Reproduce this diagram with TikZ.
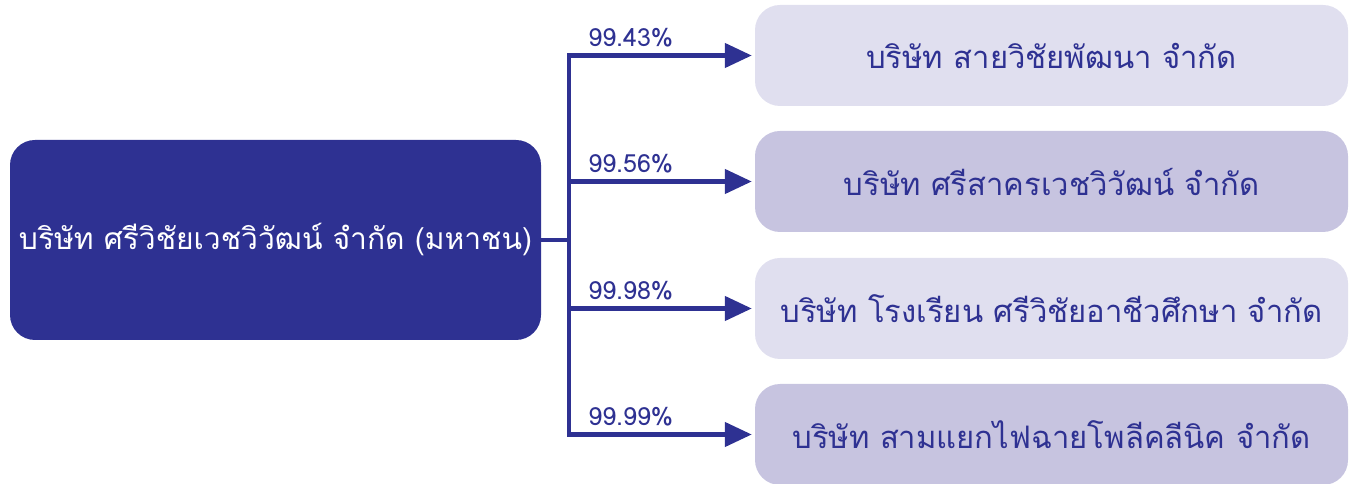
\documentclass[tikz,border=0pt]{standalone}
\usepackage{fontspec}
\setmainfont[Script=Thai]{Loma}
\usetikzlibrary{arrows.meta}
\definecolor{navy}{HTML}{2E3192}
\definecolor{lightbox}{HTML}{E0DFEF}
\definecolor{midbox}{HTML}{C7C4E0}
\tikzset{
  mainbox/.style={fill=navy, rounded corners=25pt},
  subbox/.style={rounded corners=25pt},
  maintext/.style={text=white, font=\fontsize{30}{33}\selectfont, inner sep=0pt, minimum width=531pt, minimum height=200pt},
  subtext/.style={text=navy, font=\fontsize{31}{34}\selectfont, inner sep=0pt, minimum width=593pt, minimum height=101pt},
  link/.style={draw=navy, line width=4.5pt},
  arrowlink/.style={link, -{Triangle[length=27pt,width=24pt]}, shorten >=3pt},
  pct/.style={text=navy, font=\fontsize{25}{27}\selectfont, inner sep=0pt, anchor=base west}
}
\begin{document}
\begin{tikzpicture}[x=1pt,y=1pt]
\useasboundingbox (0,0) rectangle (1354,484);
% main box
\path[mainbox] (10,144) rectangle (541,344);
\node[maintext] (main) at (275.5,244) {บริษัท ศรีวิชัยเวชวิวัฒน์ จำกัด (มหาชน)};
% sub boxes
\path[subbox, fill=lightbox] (755,378) rectangle (1348,479);
\node[subtext] (c1) at (1051.5,428.5) {บริษัท สายวิชัยพัฒนา จำกัด};
\path[subbox, fill=midbox] (755,252) rectangle (1348,353);
\node[subtext] (c2) at (1051.5,302.5) {บริษัท ศรีสาครเวชวิวัฒน์ จำกัด};
\path[subbox, fill=lightbox] (755,125) rectangle (1348,226);
\node[subtext] (c3) at (1051.5,175.5) {บริษัท โรงเรียน ศรีวิชัยอาชีวศึกษา จำกัด};
\path[subbox, fill=midbox] (755,-1) rectangle (1348,100);
\node[subtext] (c4) at (1051.5,49.5) {บริษัท สามแยกไฟฉายโพลีคลีนิค จำกัด};
% connectors
\draw[link] (main.east) -- ++(28,0) coordinate (j);
\foreach \c/\p in {c1/99.43\%, c2/99.56\%, c3/99.98\%, c4/99.99\%}{
  \draw[arrowlink] (j) |- (\c.west);
  \path (j |- \c.west) ++(19,9) node[pct] {\p};
}
\end{tikzpicture}
\end{document}
